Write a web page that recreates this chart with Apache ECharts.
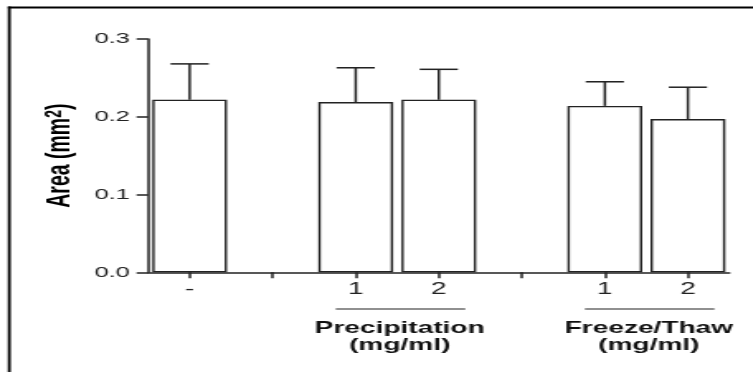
<!DOCTYPE html>
<html>
<head>
<meta charset="utf-8">
<script src="https://cdn.jsdelivr.net/npm/echarts@6/dist/echarts.min.js"></script>
<style>
    html, body {margin: 0; padding: 0; background: #fff; overflow: hidden;}
    /* the source figure is stretched sideways, so draw narrow and widen it */
    #chart {width: 456px; height: 372px; transform: scaleX(1.651); transform-origin: 0 0;}
</style>
</head>
<body>
<div id="chart"></div>
<script>
// x categories, blanks are the gaps between the groups
var categories = ['-', '', '1', '2', '', '1', '2'];
// mean area (mm2) and error (SD) per category
var areaMean = [0.222, '-', 0.219, 0.222, '-', 0.214, 0.197];
var areaErr = [0.046, '-', 0.044, 0.039, '-', 0.031, 0.041];
// group labels under the axis (category index range)
var groupNames = ['Precipitation\n(mg/ml)', 'Freeze/Thaw\n(mg/ml)'];
var groupFrom = [2, 5];
var groupTo = [3, 6];

var lineColor = '#222';
var errData = [];
for (var i = 0; i < categories.length; i++) {
    if (areaMean[i] === '-') continue;
    errData.push([i, areaMean[i], areaMean[i] + areaErr[i]]);
}

var chart = echarts.init(document.getElementById('chart'));

var option = {
    animation: false,
    backgroundColor: '#fff',
    grid: {left: 89.7, right: 456 - 441.8, top: 39, bottom: 372 - 272.3},
    xAxis: {
        type: 'category',
        data: categories,
        axisLine: {lineStyle: {color: lineColor, width: 1.5}},
        axisTick: {show: true, alignWithLabel: true, interval: 0, length: 6, lineStyle: {color: lineColor, width: 1.5}},
        axisLabel: {interval: 0, margin: 9, fontSize: 17, color: '#222', fontFamily: 'Liberation Sans'},
        splitLine: {show: false}
    },
    yAxis: {
        type: 'value',
        min: 0,
        max: 0.3,
        interval: 0.1,
        name: 'Area (mm{sup|2})',
        nameLocation: 'middle',
        nameRotate: 90,
        nameGap: 42,
        nameTextStyle: {
            fontFamily: 'Liberation Sans', fontWeight: 'bold', fontSize: 19.5, color: '#000',
            rich: {sup: {fontFamily: 'Liberation Sans', fontWeight: 'bold', fontSize: 14, color: '#000', verticalAlign: 'top'}}
        },
        axisLine: {show: true, lineStyle: {color: lineColor, width: 1.5}},
        axisTick: {show: true, length: 7, lineStyle: {color: lineColor, width: 1.5}},
        axisLabel: {
            margin: 11, fontSize: 15.5, color: '#222', fontFamily: 'Liberation Sans',
            formatter: function (v) { return v.toFixed(1); }
        },
        splitLine: {show: false}
    },
    series: [
        {
            type: 'bar',
            data: areaMean,
            barWidth: '90%',
            itemStyle: {color: '#fff', borderColor: lineColor, borderWidth: 1.4}
        },
        {
            type: 'custom',
            data: errData,
            encode: {x: 0, y: [1, 2]},
            z: 3,
            renderItem: function (params, api) {
                var base = api.coord([api.value(0), api.value(1)]);
                var top = api.coord([api.value(0), api.value(2)]);
                var half = api.size([1, 0])[0] * 0.23;
                var st = {stroke: lineColor, lineWidth: 1.5};
                return {
                    type: 'group',
                    children: [
                        {type: 'line', shape: {x1: base[0], y1: base[1], x2: top[0], y2: top[1]}, style: st},
                        {type: 'line', shape: {x1: top[0] - half, y1: top[1], x2: top[0] + half, y2: top[1]}, style: st}
                    ]
                };
            }
        }
    ]
};
chart.setOption(option);

// frame + group brackets, placed from the category axis
var graphics = [
    {type: 'line', shape: {x1: 4.8, y1: 7.5, x2: 456, y2: 7.5}, style: {stroke: '#000', lineWidth: 2.2}},
    {type: 'line', shape: {x1: 5.6, y1: 6.5, x2: 5.6, y2: 372}, style: {stroke: '#000', lineWidth: 1.8}}
];
for (var g = 0; g < groupNames.length; g++) {
    var xa = chart.convertToPixel({xAxisIndex: 0}, groupFrom[g]);
    var xb = chart.convertToPixel({xAxisIndex: 0}, groupTo[g]);
    var band = xb - xa;
    var mid = (xa + xb) / 2;
    graphics.push({
        type: 'line',
        shape: {x1: mid + 2 - band * 0.78, y1: 309, x2: mid + 2 + band * 0.78, y2: 309},
        style: {stroke: lineColor, lineWidth: 1.2}
    });
    graphics.push({
        type: 'text',
        x: mid + 1.5,
        y: 320,
        style: {
            text: groupNames[g], textAlign: 'center', textVerticalAlign: 'top',
            font: 'bold 17px "Liberation Sans"', lineHeight: 17, fill: '#111'
        }
    });
}
chart.setOption({graphic: graphics});
</script>
</body>
</html>
